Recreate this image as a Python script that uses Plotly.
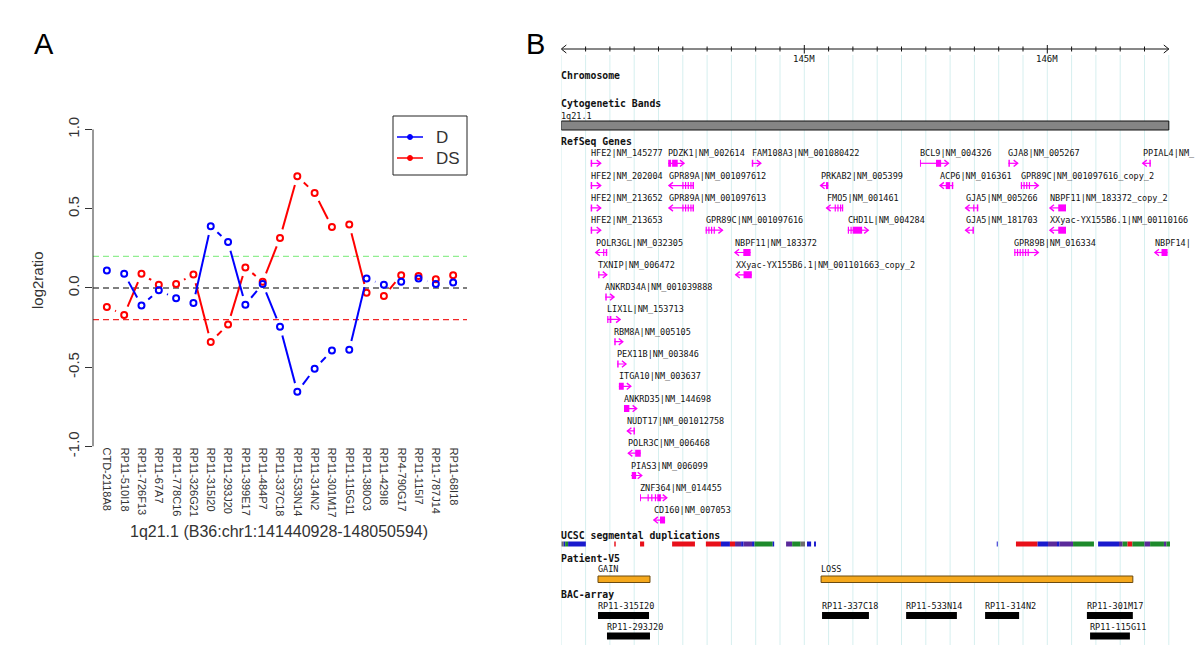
import math
import numpy as np
import plotly.graph_objects as go

# ---------------- Panel A data ----------------
clones = ["CTD-2118A8", "RP11-510I18", "RP11-726F13", "RP11-67A7", "RP11-778C16",
          "RP11-326G21", "RP11-315I20", "RP11-293J20", "RP11-399E17", "RP11-484P7",
          "RP11-337C18", "RP11-533N14", "RP11-314N2", "RP11-301M17", "RP11-115G11",
          "RP11-380O3", "RP11-429I8", "RP4-790G17", "RP11-115I7", "RP11-787J14", "RP11-68I18"]
d_vals = [0.11, 0.09, -0.11, -0.015, -0.065, -0.095, 0.39, 0.29, -0.105, 0.025, -0.245,
          -0.655, -0.51, -0.395, -0.39, 0.06, 0.02, 0.04, 0.06, 0.025, 0.035]
ds_vals = [-0.12, -0.17, 0.09, 0.02, 0.025, 0.085, -0.34, -0.23, 0.13, 0.04, 0.315,
           0.705, 0.60, 0.385, 0.40, -0.03, -0.05, 0.08, 0.075, 0.055, 0.08]
series_names = ["D", "DS"]
series_colors = ["#0000ff", "#ff0000"]
thresholds = [0.2, 0.0, -0.2]
threshold_colors = ["#90ee90", "#000000", "#f02828"]
yticks = [-1.0, -0.5, 0.0, 0.5, 1.0]
xtitle = "1q21.1 (B36:chr1:141440928-148050594)"

# ---------------- Panel B data ----------------
gene_names = ["HFE2|NM_145277", "PDZK1|NM_002614", "FAM108A3|NM_001080422", "BCL9|NM_004326",
              "GJA8|NM_005267", "PPIAL4|NM_",
              "HFE2|NM_202004", "GPR89A|NM_001097612", "PRKAB2|NM_005399", "ACP6|NM_016361",
              "GPR89C|NM_001097616_copy_2",
              "HFE2|NM_213652", "GPR89A|NM_001097613", "FMO5|NM_001461", "GJA5|NM_005266",
              "NBPF11|NM_183372_copy_2",
              "HFE2|NM_213653", "GPR89C|NM_001097616", "CHD1L|NM_004284", "GJA5|NM_181703",
              "XXyac-YX155B6.1|NM_00110166",
              "POLR3GL|NM_032305", "NBPF11|NM_183372", "GPR89B|NM_016334", "NBPF14|",
              "TXNIP|NM_006472", "XXyac-YX155B6.1|NM_001101663_copy_2",
              "ANKRD34A|NM_001039888", "LIX1L|NM_153713", "RBM8A|NM_005105", "PEX11B|NM_003846",
              "ITGA10|NM_003637", "ANKRD35|NM_144698", "NUDT17|NM_001012758", "POLR3C|NM_006468",
              "PIAS3|NM_006099", "ZNF364|NM_014455", "CD160|NM_007053"]
gene_rows = [0, 0, 0, 0, 0, 0,
             1, 1, 1, 1, 1,
             2, 2, 2, 2, 2,
             3, 3, 3, 3, 3,
             4, 4, 4, 4,
             5, 5,
             6, 7, 8, 9, 10, 11, 12, 13, 14, 15, 16]
gene_start = [144.121, 144.440, 144.784, 145.476, 145.840, 146.393,
              144.121, 144.443, 145.067, 145.558, 145.891,
              144.121, 144.443, 145.092, 145.664, 146.011,
              144.121, 144.594, 145.179, 145.664, 146.011,
              144.142, 144.715, 145.864, 146.443,
              144.152, 144.718,
              144.181, 144.189, 144.218, 144.230, 144.237, 144.258, 144.272, 144.276,
              144.287, 144.324, 144.381]
gene_end = [144.162, 144.505, 144.821, 145.593, 145.878, 146.426,
            144.162, 144.546, 145.099, 145.613, 145.963,
            144.162, 144.546, 145.160, 145.716, 146.077,
            144.162, 144.663, 145.263, 145.698, 146.077,
            144.189, 144.779, 145.963, 146.495,
            144.187, 144.784,
            144.217, 144.242, 144.253, 144.266, 144.286, 144.310, 144.303, 144.327,
            144.331, 144.434, 144.427]
gene_strand = ["+", "+", "+", "+", "+", "-",
               "+", "-", "-", "-", "+",
               "+", "-", "-", "-", "-",
               "+", "+", "+", "-", "-",
               "-", "-", "+", "-",
               "+", "-",
               "+", "+", "+", "+", "+", "+", "-", "-", "+", "+", "-"]
gpr89a_exons = [(144.498, 144.503), (144.509, 144.514), (144.520, 144.525), (144.531, 144.536), (144.540, 144.546)]
hfe2_exons = [(144.121, 144.127)]
gene_exons = [hfe2_exons, [(144.440, 144.452), (144.456, 144.479)], [(144.784, 144.790)],
              [(145.476, 145.480), (145.542, 145.563)], [(145.840, 145.846)], [(146.420, 146.426)],
              hfe2_exons, gpr89a_exons, [(145.089, 145.099)], [(145.582, 145.600), (145.607, 145.613)],
              [(145.891, 145.896), (145.902, 145.907), (145.913, 145.918), (145.924, 145.929)],
              hfe2_exons, gpr89a_exons,
              [(145.125, 145.130), (145.136, 145.141), (145.147, 145.152), (145.155, 145.160)],
              [(145.695, 145.700), (145.710, 145.716)], [(146.045, 146.077)],
              hfe2_exons, [(144.594, 144.599), (144.605, 144.610), (144.616, 144.621), (144.627, 144.632)],
              [(145.179, 145.184), (145.190, 145.195), (145.199, 145.238)], [(145.692, 145.698)],
              [(146.045, 146.077)],
              [(144.172, 144.177), (144.183, 144.189)], [(144.749, 144.779)],
              [(145.864, 145.869), (145.875, 145.880), (145.886, 145.891), (145.897, 145.902),
               (145.908, 145.913), (145.919, 145.924)], [(146.470, 146.495)],
              [(144.152, 144.157)], [(144.750, 144.784)],
              [(144.181, 144.187)], [(144.189, 144.194), (144.199, 144.206)], [(144.218, 144.224)],
              [(144.230, 144.236)], [(144.237, 144.257)], [(144.258, 144.280)], [(144.297, 144.303)],
              [(144.304, 144.327)], [(144.290, 144.308)],
              [(144.324, 144.328), (144.355, 144.360), (144.370, 144.375), (144.385, 144.390), (144.395, 144.410)],
              [(144.406, 144.427)]]

seg_start = [144.000, 144.010, 144.016, 144.028, 144.218, 144.324, 144.456,
             144.595, 144.657, 144.694, 144.715, 144.740, 144.750, 144.785, 144.795, 144.870,
             144.925, 144.950, 144.985, 145.011, 145.040, 145.792,
             145.871, 145.960, 146.003, 146.040, 146.050, 146.106, 146.209, 146.295, 146.310,
             146.330, 146.350, 146.400, 146.423, 146.480, 146.490]
seg_end = [144.010, 144.016, 144.028, 144.101, 144.224, 144.341, 144.550,
           144.657, 144.694, 144.715, 144.740, 144.750, 144.785, 144.795, 144.870, 144.876,
           144.950, 144.985, 145.003, 145.028, 145.048, 145.796,
           145.960, 146.003, 146.040, 146.050, 146.106, 146.192, 146.295, 146.310, 146.330,
           146.350, 146.400, 146.423, 146.480, 146.490, 146.505]
seg_kind = ["gray", "blue", "green", "blue", "red", "red", "red",
            "red", "blue", "red", "purple", "blue", "purple", "blue", "green", "blue",
            "purple", "green", "gray", "blue", "blue", "blue",
            "red", "blue", "purple", "blue", "purple", "green", "blue", "purple", "green",
            "red", "green", "purple", "green", "purple", "green"]

cnv_labels = ["GAIN", "LOSS"]
cnv_start = [144.151, 145.069]
cnv_end = [144.365, 146.352]

bac_names = ["RP11-315I20", "RP11-337C18", "RP11-533N14", "RP11-314N2", "RP11-301M17",
             "RP11-293J20", "RP11-115G11"]
bac_start = [144.151, 145.073, 145.419, 145.744, 146.163, 144.188, 146.176]
bac_end = [144.361, 145.266, 145.628, 145.884, 146.352, 144.365, 146.340]
bac_rows = [0, 0, 0, 0, 0, 1, 1]

chrom_start, chrom_end = 144.0, 146.5
cyto_band = "1q21.1"

# ---------------- styling / layout constants ----------------
W, H = 1200, 650
SANS = "Liberation Sans, Arial, sans-serif"
MONO = "DejaVu Sans Mono, monospace"
MAGENTA = "#ff00ff"
SEG_COLORS = {"red": "#e8101a", "blue": "#1a1acd", "green": "#1e8a2c",
              "gray": "#6e6e6e", "purple": "#5a2a9a"}

def pxx(p):
    return p / W

def pxy(p):
    return 1 - p / H

fig = go.Figure()

# ======================= PANEL A =======================
XL0, XL1 = 93, 467            # plot-region pixels
XR = [-0.8, len(clones) - 1 + 0.8]
YT, YB = 116.8, 446.5
YR = [-1.0, 1.08]
PX_PER_X = (XL1 - XL0) / (XR[1] - XR[0])
PX_PER_Y = (YB - YT) / (YR[1] - YR[0])
GAP = 9.0

def gapped(vals):
    xs, ys = [], []
    for i in range(len(vals) - 1):
        dv = vals[i + 1] - vals[i]
        L = math.hypot(PX_PER_X, dv * PX_PER_Y)
        if L > 2 * GAP:
            t0 = GAP / L
            t1 = 1 - t0
            xs += [i + t0, i + t1, None]
            ys += [vals[i] + t0 * dv, vals[i] + t1 * dv, None]
    return xs, ys

xidx = list(range(len(clones)))
for vals, name, col in [(ds_vals, series_names[1], series_colors[1]),
                        (d_vals, series_names[0], series_colors[0])]:
    sx, sy = gapped(vals)
    fig.add_trace(go.Scatter(x=sx, y=sy, mode="lines", line=dict(color=col, width=2),
                             showlegend=False, hoverinfo="skip", xaxis="x", yaxis="y"))
    fig.add_trace(go.Scatter(x=xidx, y=vals, mode="markers", name=name,
                             marker=dict(symbol="circle-open", size=6, color=col,
                                         line=dict(width=2, color=col)),
                             showlegend=False, xaxis="x", yaxis="y"))

for yv, col in zip(thresholds, threshold_colors):
    fig.add_shape(type="line", xref="x", yref="y", x0=XR[0], x1=XR[1], y0=yv, y1=yv,
                  line=dict(color=col, width=1.2, dash="6px,4px"), layer="below")

# y axis line (R style, only from -1 to 1)
fig.add_shape(type="line", xref="paper", yref="y", x0=pxx(XL0), x1=pxx(XL0), y0=-1, y1=1,
              line=dict(color="#333333", width=1))

# manual legend
fig.add_shape(type="rect", xref="paper", yref="paper", x0=pxx(393), x1=pxx(467),
              y0=pxy(175), y1=pxy(116), line=dict(color="#222222", width=1), fillcolor="white")
for k, (name, col) in enumerate(zip(series_names, series_colors)):
    yy = 137 + 21 * k
    fig.add_shape(type="line", xref="paper", yref="paper", x0=pxx(397), x1=pxx(423),
                  y0=pxy(yy), y1=pxy(yy), line=dict(color=col, width=1.5))
    fig.add_shape(type="circle", xref="paper", yref="paper", x0=pxx(407.5), x1=pxx(412.5),
                  y0=pxy(yy + 2.5), y1=pxy(yy - 2.5), line=dict(color=col, width=1), fillcolor=col)
    fig.add_annotation(x=pxx(434), y=pxy(yy), xref="paper", yref="paper", text=name,
                       showarrow=False, xanchor="left", yanchor="middle",
                       font=dict(family=SANS, size=17, color="#333333"))

def paper_text(x, y, text, size, angle=0, color="#333333"):
    fig.add_annotation(x=pxx(x), y=pxy(y), xref="paper", yref="paper", text=text,
                       textangle=angle, showarrow=False, xanchor="center", yanchor="middle",
                       font=dict(family=SANS, size=size, color=color))

paper_text(37, 280, "log2ratio", 15, angle=-90)
paper_text(279, 531, xtitle, 16)
paper_text(44, 44, "A", 29, color="#000000")
paper_text(535, 44, "B", 29, color="#000000")

# ======================= PANEL B =======================
BX0, BX1 = 561.3, 1190
PX_PER_MB = 243.0
B_RANGE = [chrom_start, chrom_start + (BX1 - BX0) / PX_PER_MB]
MB_PER_PX = 1 / PX_PER_MB

def tlabel(x, y, text, bold=False, size=8.5, color="#111111"):
    fig.add_annotation(x=x, y=y, xref="x2", yref="y2", text=("<b>%s</b>" % text) if bold else text,
                       showarrow=False, xanchor="left", yanchor="middle", borderpad=0,
                       xshift=-1, font=dict(family=MONO, size=size, color=color))

# guide lines every 0.1 Mb
grid = np.round(np.arange(chrom_start, chrom_end + 0.001, 0.1), 3)
for g in grid:
    fig.add_shape(type="line", xref="x2", yref="y2", x0=g, x1=g, y0=55, y1=645,
                  line=dict(color="#d6efef", width=1), layer="below")

# chromosome position axis
AX_Y = 49
ax_x, ax_y = [chrom_start, chrom_end, None], [AX_Y, AX_Y, None]
aw = 5 * MB_PER_PX
ax_x += [chrom_start + aw, chrom_start, chrom_start + aw, None,
         chrom_end - aw, chrom_end, chrom_end - aw, None]
ax_y += [AX_Y - 4, AX_Y, AX_Y + 4, None, AX_Y - 4, AX_Y, AX_Y + 4, None]
for t in grid[1:-1]:
    major = abs(t - round(t)) < 1e-6
    ax_x += [t, t, None]
    ax_y += ([AX_Y - 4, AX_Y + 4.5, None] if major else [AX_Y - 2.5, AX_Y + 2.5, None])
fig.add_trace(go.Scatter(x=ax_x, y=ax_y, mode="lines", line=dict(color="#111111", width=1),
                         showlegend=False, hoverinfo="skip", xaxis="x2", yaxis="y2"))
for t in grid[1:-1]:
    if abs(t - round(t)) < 1e-6:
        fig.add_annotation(x=t, y=59, xref="x2", yref="y2", text="%dM" % round(t), showarrow=False,
                           xanchor="center", yanchor="middle", font=dict(family=MONO, size=9, color="#111111"))

# track titles
tlabel(chrom_start, 75.5, "Chromosome", bold=True, size=9.8)
tlabel(chrom_start, 103.5, "Cytogenetic Bands", bold=True, size=9.8)
tlabel(chrom_start, 116, cyto_band, size=8.5)
fig.add_shape(type="rect", xref="x2", yref="y2", x0=chrom_start, x1=chrom_end, y0=121, y1=130,
              fillcolor="#858585", line=dict(color="#111111", width=1))
tlabel(chrom_start, 141, "RefSeq Genes", bold=True, size=9.8)

# genes
ROW0, ROWSTEP = 153.3, 22.3
intron_x, intron_y, chev_x, chev_y = [], [], [], []
cw = 4 * MB_PER_PX
for name, row, s, e, strand, exons in zip(gene_names, gene_rows, gene_start, gene_end,
                                          gene_strand, gene_exons):
    ly = ROW0 + ROWSTEP * row
    gy = ly + 10
    tlabel(s, ly, name)
    intron_x += [s, e, None]
    intron_y += [gy, gy, None]
    if strand == "+":
        chev_x += [e - cw, e, e - cw, None]
    else:
        chev_x += [s + cw, s, s + cw, None]
    chev_y += [gy - 3.2, gy, gy + 3.2, None]
    for (es, ee) in exons:
        fig.add_shape(type="rect", xref="x2", yref="y2", x0=es, x1=ee, y0=gy - 3.5, y1=gy + 3.5,
                      fillcolor=MAGENTA, line=dict(width=0))
fig.add_trace(go.Scatter(x=intron_x, y=intron_y, mode="lines", line=dict(color=MAGENTA, width=1.2),
                         showlegend=False, hoverinfo="skip", xaxis="x2", yaxis="y2"))
fig.add_trace(go.Scatter(x=chev_x, y=chev_y, mode="lines", line=dict(color=MAGENTA, width=1.4),
                         showlegend=False, hoverinfo="skip", xaxis="x2", yaxis="y2"))

# segmental duplications
tlabel(chrom_start, 535, "UCSC segmental duplications", bold=True, size=9.8)
for s, e, k in zip(seg_start, seg_end, seg_kind):
    fig.add_shape(type="rect", xref="x2", yref="y2", x0=s, x1=e, y0=541.5, y1=546.5,
                  fillcolor=SEG_COLORS[k], line=dict(width=0))

# patient CNVs
tlabel(chrom_start, 558, "Patient-V5", bold=True, size=9.8)
for lab, s, e in zip(cnv_labels, cnv_start, cnv_end):
    tlabel(s, 569, lab, size=8.5)
    fig.add_shape(type="rect", xref="x2", yref="y2", x0=s, x1=e, y0=576, y1=582.5,
                  fillcolor="#f5a81c", line=dict(color="#6b4a10", width=1))

# BAC array
tlabel(chrom_start, 594, "BAC-array", bold=True, size=9.8)
for name, s, e, r in zip(bac_names, bac_start, bac_end, bac_rows):
    ly = 606 + 20.5 * r
    tlabel(s, ly, name, size=8.5)
    fig.add_shape(type="rect", xref="x2", yref="y2", x0=s, x1=e, y0=ly + 6, y1=ly + 13,
                  fillcolor="#000000", line=dict(width=0))

# ======================= LAYOUT =======================
fig.update_layout(
    width=W, height=H, autosize=False, margin=dict(l=0, r=0, t=0, b=0, pad=0),
    paper_bgcolor="white", plot_bgcolor="white", showlegend=False,
    xaxis=dict(domain=[pxx(XL0), pxx(XL1)], range=XR, tickmode="array", tickvals=xidx,
               ticktext=clones, tickangle=90, ticks="", showline=False, showgrid=False,
               zeroline=False, tickfont=dict(family=SANS, size=11, color="#333333"),
               anchor="y", automargin=False),
    yaxis=dict(domain=[pxy(YB), pxy(YT)], range=YR, tickmode="array", tickvals=yticks,
               ticktext=["%.1f" % v for v in yticks], ticks="outside", ticklen=7,
               tickcolor="#333333", tickangle=-90, showline=False, showgrid=False,
               zeroline=False, tickfont=dict(family=SANS, size=15, color="#333333"),
               anchor="x", automargin=False),
    xaxis2=dict(domain=[pxx(BX0), pxx(BX1)], range=B_RANGE, visible=False, anchor="y2",
                automargin=False),
    yaxis2=dict(domain=[0, 1], range=[H, 0], visible=False, anchor="x2", automargin=False),
)

fig.write_html(
    "out.html",
    config={"responsive": False, "displayModeBar": False},
    post_script="document.body.style.margin='0';document.body.style.padding='0';",
)
